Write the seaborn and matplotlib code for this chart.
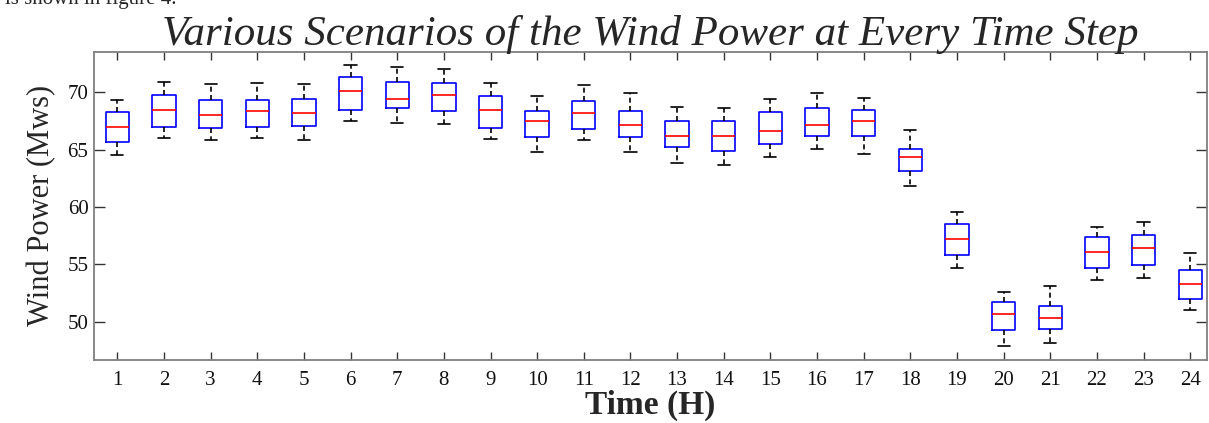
import matplotlib
matplotlib.use("Agg")
import matplotlib.pyplot as plt
import seaborn as sns
import numpy as np
import pandas as pd

# Five-number summary for each hour.
hours = [str(h) for h in range(1, 25)]
whisker_low = [64.5, 66.0, 65.8, 66.0, 65.8, 67.5, 67.3, 67.2, 65.9, 64.8, 65.8, 64.8,
               63.8, 63.7, 64.4, 65.1, 64.6, 61.8, 54.7, 47.9, 48.1, 53.6, 53.8, 51.0]
q1 = [65.7, 67.0, 66.9, 67.0, 67.1, 68.5, 68.6, 68.4, 66.9, 66.1, 66.8, 66.1,
      65.2, 64.9, 65.5, 66.2, 66.2, 63.1, 55.8, 49.3, 49.4, 54.7, 54.9, 52.0]
median = [67.0, 68.5, 68.05, 68.4, 68.2, 70.1, 69.45, 69.8, 68.5, 67.5, 68.2, 67.15,
          66.2, 66.2, 66.6, 67.15, 67.5, 64.35, 57.25, 50.65, 50.3, 56.1, 56.45, 53.3]
q3 = [68.3, 69.8, 69.3, 69.3, 69.4, 71.3, 70.9, 70.8, 69.7, 68.4, 69.2, 68.4,
      67.5, 67.5, 68.3, 68.6, 68.5, 65.05, 58.5, 51.7, 51.35, 57.35, 57.6, 54.55]
whisker_high = [69.3, 70.9, 70.7, 70.8, 70.7, 72.4, 72.2, 72.05, 70.8, 69.7, 70.6, 69.9,
                68.7, 68.6, 69.4, 69.9, 69.5, 66.7, 59.55, 52.6, 53.1, 58.25, 58.7, 55.95]

rows = []
for i, h in enumerate(hours):
    for v in (whisker_low[i], q1[i], median[i], q3[i], whisker_high[i]):
        rows.append({"hour": h, "power": v})
df = pd.DataFrame(rows)

sns.set_theme(style="white")
plt.rcParams["font.family"] = ["Liberation Serif", "DejaVu Serif"]

fig = plt.figure(figsize=(12.09, 4.23), dpi=100)
ax = fig.add_axes([94 / 1209, 1 - 360 / 423, (1207 - 94) / 1209, (360 - 51.7) / 423])

lw = 1.2
sns.boxplot(
    data=df, x="hour", y="power", order=hours, ax=ax,
    fill=False, width=0.5, whis=(0, 100), color="blue",
    capwidths=0.26,
    boxprops=dict(color="blue", linewidth=lw),
    medianprops=dict(color="red", linewidth=lw),
    whiskerprops=dict(color="black", linewidth=lw, linestyle=(0, (3, 2))),
    capprops=dict(color="black", linewidth=lw),
    showfliers=False,
)

ax.set_xlim(-0.5, 23.36)
ax.set_ylim(46.66, 73.54)
ax.set_yticks([50, 55, 60, 65, 70])

for side in ["left", "right", "top", "bottom"]:
    ax.spines[side].set_visible(True)
    ax.spines[side].set_color("#7f7f7f")
    ax.spines[side].set_linewidth(1.3)

ax.tick_params(axis="x", direction="in", length=6, width=1, color="#333333",
               top=True, bottom=True, labelsize=15, pad=8, labelcolor="#111111")
ax.tick_params(axis="y", direction="in", length=8, width=1, color="#333333",
               left=True, right=True, labelsize=15, pad=4, labelcolor="#111111")

ax.set_xlabel("Time (H)", fontsize=24, fontweight="bold", labelpad=0)
ax.set_ylabel("Wind Power (Mws)", fontsize=22, labelpad=8)
ax.set_title("Various Scenarios of the Wind Power at Every Time Step",
             fontsize=31, fontstyle="italic", pad=5)

# fragment of the surrounding page text, cut off at the top edge as in the source
fig.text(0.004, 1 - 4 / 423, "is shown in figure 4.", fontsize=15, va="baseline")

fig.savefig("out.png", dpi=100)
